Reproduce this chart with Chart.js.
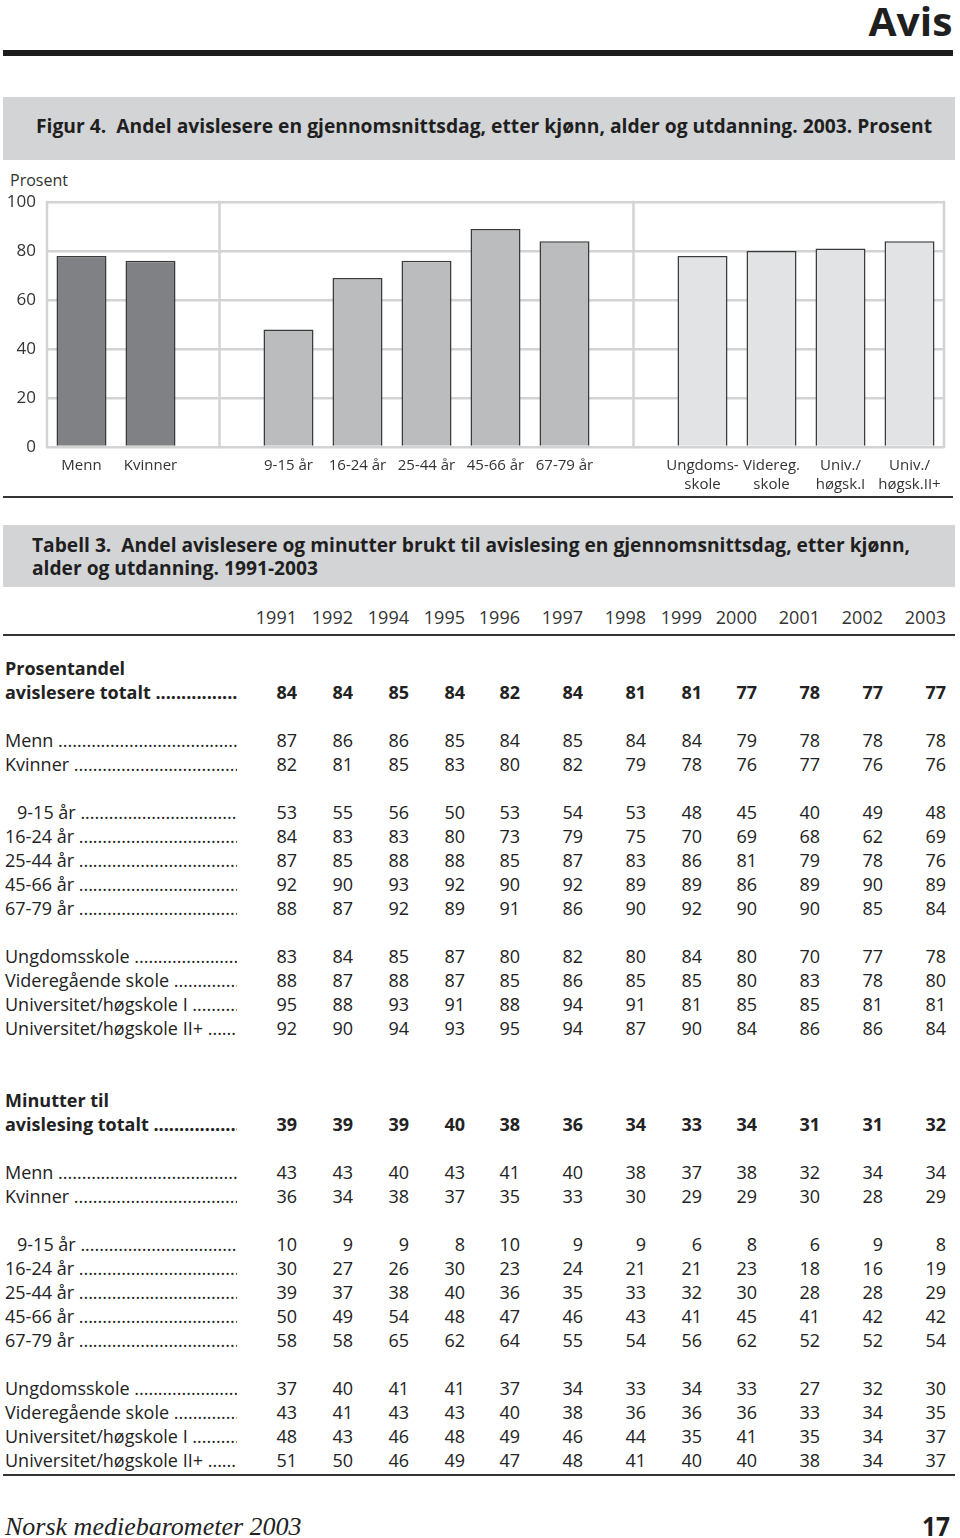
<!DOCTYPE html>
<html lang="no">
<head>
<meta charset="utf-8">
<title>Avis</title>
<script src="https://cdn.jsdelivr.net/npm/chart.js@4.4.1/dist/chart.umd.min.js"></script>
<style>
  html, body { margin: 0; padding: 0; background: #fff; }
  body { width: 960px; height: 1538px; position: relative; overflow: hidden; font-family: 'Open Sans', 'Noto Sans', sans-serif; color: #222; }
  .abs { position: absolute; }
  .cond { font-family: 'Open Sans', sans-serif; font-weight: bold; color: #1f1f1f; white-space: nowrap; transform-origin: left center; }
  #avis { right: 8px; top: -4px; font-size: 40px; line-height: 50px; transform-origin: right center; }
  #ruleTop { left: 3px; top: 50px; width: 950px; height: 6px; background: #1d1d1d; }
  .box { left: 3px; width: 952px; background: #d3d4d6; }
  #figBox { top: 97px; height: 63px; }
  #figTitle { left: 36px; top: 113px; font-size: 19px; line-height: 26px; }
  #prosent { left: 10px; top: 169px; font-size: 16px; color: #333; }
  #chartWrap { left: 0; top: 170px; width: 960px; height: 325px; }
  #ruleChart { left: 3px; top: 496px; width: 950px; height: 2px; background: #333; }
  #tabBox { top: 525px; height: 62px; }
  #tabTitle1 { left: 32px; top: 533px; font-size: 19px; line-height: 24px; }
  #tabTitle2 { left: 32px; top: 556px; font-size: 19px; line-height: 24px; }
  #ruleHead { left: 3px; top: 634px; width: 952px; height: 2px; background: #333; }
  #ruleBottom { left: 3px; top: 1474px; width: 952px; height: 2px; background: #333; }
  table { border-collapse: collapse; table-layout: fixed; width: 946px; font-size: 18px; }
  td { height: 24px; line-height: 24px; padding: 0; text-align: right; white-space: nowrap; color: #222; overflow: hidden; }
  td.lbl { text-align: left; padding-left: 5px; }
  td.lbl.dots::after { content: ' ...................................................................'; }
  td.lbl.indent { padding-left: 17px; }
  tr.bold td { font-weight: bold; }
  #yearTable td { color: #333; }
  #footer { left: 5px; top: 1512px; font-family: 'Liberation Serif', 'DejaVu Serif', serif; font-style: italic; font-size: 26px; line-height: 30px; color: #222; }
  #page { right: 10px; top: 1511px; font-size: 27px; line-height: 30px; transform-origin: right center; }
</style>
</head>
<body>
<div id="avis" class="abs cond">Avis</div>
<div id="ruleTop" class="abs"></div>
<div id="figBox" class="abs box"></div>
<div id="figTitle" class="abs cond">Figur 4.&nbsp; Andel avislesere en gjennomsnittsdag, etter kjønn, alder og utdanning. 2003. Prosent</div>
<div id="prosent" class="abs">Prosent</div>
<div id="chartWrap" class="abs"><canvas id="chart" width="960" height="325"></canvas></div>
<div id="ruleChart" class="abs"></div>
<div id="tabBox" class="abs box"></div>
<div id="tabTitle1" class="abs cond">Tabell 3.&nbsp; Andel avislesere og minutter brukt til avislesing en gjennomsnittsdag, etter kjønn,</div>
<div id="tabTitle2" class="abs cond">alder og utdanning. 1991-2003</div>
<table id="yearTable" class="abs" style="left:0; top:605px;"></table>
<div id="ruleHead" class="abs"></div>
<table id="bodyTable" class="abs" style="left:0; top:656px;"></table>
<div id="ruleBottom" class="abs"></div>
<div id="footer" class="abs">Norsk mediebarometer 2003</div>
<div id="page" class="abs cond">17</div>

<script>
// Figure 4: share of newspaper readers 2003
const barLabels = ['Menn', 'Kvinner', '', '9-15 år', '16-24 år', '25-44 år', '45-66 år', '67-79 år', '',
    ['Ungdoms-', 'skole'], ['Videreg.', 'skole'], ['Univ./', 'høgsk.I'], ['Univ./', 'høgsk.II+']];
const barValues = [78, 76, null, 48, 69, 76, 89, 84, null, 78, 80, 81, 84];
const barGroup = [0, 0, null, 1, 1, 1, 1, 1, null, 2, 2, 2, 2];
const yTicks = [0, 20, 40, 60, 80, 100];

// Table 3
const years = ['1991', '1992', '1994', '1995', '1996', '1997', '1998', '1999', '2000', '2001', '2002', '2003'];

const shareTotal = [84, 84, 85, 84, 82, 84, 81, 81, 77, 78, 77, 77];
const shareMenn = [87, 86, 86, 85, 84, 85, 84, 84, 79, 78, 78, 78];
const shareKvinner = [82, 81, 85, 83, 80, 82, 79, 78, 76, 77, 76, 76];
const share9to15 = [53, 55, 56, 50, 53, 54, 53, 48, 45, 40, 49, 48];
const share16to24 = [84, 83, 83, 80, 73, 79, 75, 70, 69, 68, 62, 69];
const share25to44 = [87, 85, 88, 88, 85, 87, 83, 86, 81, 79, 78, 76];
const share45to66 = [92, 90, 93, 92, 90, 92, 89, 89, 86, 89, 90, 89];
const share67to79 = [88, 87, 92, 89, 91, 86, 90, 92, 90, 90, 85, 84];
const shareUngdom = [83, 84, 85, 87, 80, 82, 80, 84, 80, 70, 77, 78];
const shareVidereg = [88, 87, 88, 87, 85, 86, 85, 85, 80, 83, 78, 80];
const shareUnivI = [95, 88, 93, 91, 88, 94, 91, 81, 85, 85, 81, 81];
const shareUnivII = [92, 90, 94, 93, 95, 94, 87, 90, 84, 86, 86, 84];

const minTotal = [39, 39, 39, 40, 38, 36, 34, 33, 34, 31, 31, 32];
const minMenn = [43, 43, 40, 43, 41, 40, 38, 37, 38, 32, 34, 34];
const minKvinner = [36, 34, 38, 37, 35, 33, 30, 29, 29, 30, 28, 29];
const min9to15 = [10, 9, 9, 8, 10, 9, 9, 6, 8, 6, 9, 8];
const min16to24 = [30, 27, 26, 30, 23, 24, 21, 21, 23, 18, 16, 19];
const min25to44 = [39, 37, 38, 40, 36, 35, 33, 32, 30, 28, 28, 29];
const min45to66 = [50, 49, 54, 48, 47, 46, 43, 41, 45, 41, 42, 42];
const min67to79 = [58, 58, 65, 62, 64, 55, 54, 56, 62, 52, 52, 54];
const minUngdom = [37, 40, 41, 41, 37, 34, 33, 34, 33, 27, 32, 30];
const minVidereg = [43, 41, 43, 43, 40, 38, 36, 36, 36, 33, 34, 35];
const minUnivI = [48, 43, 46, 48, 49, 46, 44, 35, 41, 35, 34, 37];
const minUnivII = [51, 50, 46, 49, 47, 48, 41, 40, 40, 38, 34, 37];

// styles
const groupColours = ['#808184', '#bbbcbe', '#e2e3e5'];
const gridColour = '#d3d3d3';
const colWidths = [237, 60, 56, 56, 56, 55, 63, 63, 56, 55, 63, 63, 63];

// table rows: [label, values, kind]
const tableRows = [
    ['Prosentandel', null, 'bold'],
    ['avislesere totalt', shareTotal, 'bold'],
    null,
    ['Menn', shareMenn],
    ['Kvinner', shareKvinner],
    null,
    ['9-15 år', share9to15, 'indent'],
    ['16-24 år', share16to24],
    ['25-44 år', share25to44],
    ['45-66 år', share45to66],
    ['67-79 år', share67to79],
    null,
    ['Ungdomsskole', shareUngdom],
    ['Videregående skole', shareVidereg],
    ['Universitet/høgskole I', shareUnivI],
    ['Universitet/høgskole II+', shareUnivII],
    null,
    null,
    ['Minutter til', null, 'bold'],
    ['avislesing totalt', minTotal, 'bold'],
    null,
    ['Menn', minMenn],
    ['Kvinner', minKvinner],
    null,
    ['9-15 år', min9to15, 'indent'],
    ['16-24 år', min16to24],
    ['25-44 år', min25to44],
    ['45-66 år', min45to66],
    ['67-79 år', min67to79],
    null,
    ['Ungdomsskole', minUngdom],
    ['Videregående skole', minVidereg],
    ['Universitet/høgskole I', minUnivI],
    ['Universitet/høgskole II+', minUnivII]
];

function colgroup() {
    return '<colgroup>' + colWidths.map(w => `<col style="width:${w}px">`).join('') + '</colgroup>';
}

function buildTables() {
    const yearTable = document.getElementById('yearTable');
    yearTable.innerHTML = colgroup() + '<tr><td></td>' + years.map(y => `<td>${y}</td>`).join('') + '</tr>';

    const bodyTable = document.getElementById('bodyTable');
    let html = colgroup();
    tableRows.forEach(row => {
        if (!row) {
            html += '<tr>' + colWidths.map(() => '<td></td>').join('') + '</tr>';
            return;
        }
        const [label, values, kind] = row;
        const cls = ['lbl'];
        if (values) cls.push('dots');
        if (kind === 'indent') cls.push('indent');
        html += `<tr class="${kind === 'bold' ? 'bold' : ''}"><td class="${cls.join(' ')}">${label}</td>`;
        html += (values || years.map(() => '')).map(v => `<td>${v}</td>`).join('');
        html += '</tr>';
    });
    bodyTable.innerHTML = html;
}

// squeeze the condensed headings to the width they have in the print
function fitWidth(id, target, scale) {
    const el = document.getElementById(id);
    const s = scale || target / el.getBoundingClientRect().width;
    el.style.transform = `scaleX(${s})`;
    return s;
}

// vertical frame and group separators
const frameLines = {
    id: 'frameLines',
    beforeDatasetsDraw(chart) {
        const { ctx, chartArea, scales: { x, y } } = chart;
        const xs = [chartArea.left, chartArea.right];
        barLabels.forEach((l, i) => { if (l === '') xs.push(x.getPixelForValue(i)); });
        ctx.save();
        ctx.strokeStyle = gridColour;
        ctx.lineWidth = 2.5;
        xs.forEach(px => {
            ctx.beginPath();
            ctx.moveTo(px, y.getPixelForValue(yTicks[yTicks.length - 1]) - 1.25);
            ctx.lineTo(px, y.getPixelForValue(yTicks[0]) + 1.25);
            ctx.stroke();
        });
        ctx.restore();
    }
};

function drawChart() {
    const ctx = document.getElementById('chart').getContext('2d');
    new Chart(ctx, {
        type: 'bar',
        data: {
            labels: barLabels,
            datasets: [{
                data: barValues,
                backgroundColor: barGroup.map(g => g === null ? 'transparent' : groupColours[g]),
                borderColor: '#3a3a3a',
                borderWidth: 1.5,
                categoryPercentage: 1,
                barPercentage: 0.725
            }]
        },
        options: {
            responsive: false,
            animation: false,
            layout: { padding: { top: 32, right: 16, left: 0, bottom: 0 } },
            plugins: {
                legend: { display: false },
                tooltip: { enabled: false }
            },
            scales: {
                x: {
                    grid: { display: false },
                    border: { display: false },
                    ticks: {
                        color: '#333',
                        font: { family: "'Open Sans'", size: 15, lineHeight: 1.27 },
                        padding: 1,
                        maxRotation: 0,
                        autoSkip: false
                    },
                    afterFit: s => { s.height = 48; }
                },
                y: {
                    min: yTicks[0],
                    max: yTicks[yTicks.length - 1],
                    afterBuildTicks: s => { s.ticks = yTicks.map(v => ({ value: v })); },
                    grid: { color: gridColour, lineWidth: 2.5, drawTicks: false },
                    border: { display: false },
                    ticks: {
                        color: '#333',
                        font: { family: "'Open Sans'", size: 17 },
                        padding: 11
                    },
                    afterFit: s => { s.width = 47; }
                }
            }
        },
        plugins: [frameLines]
    });
}

document.addEventListener('DOMContentLoaded', () => {
    buildTables();
    fitWidth('avis', 84);
    fitWidth('figTitle', 896);
    const s = fitWidth('tabTitle1', 878);
    fitWidth('tabTitle2', 0, s);
    fitWidth('page', 28);
    drawChart();
});
</script>
</body>
</html>
